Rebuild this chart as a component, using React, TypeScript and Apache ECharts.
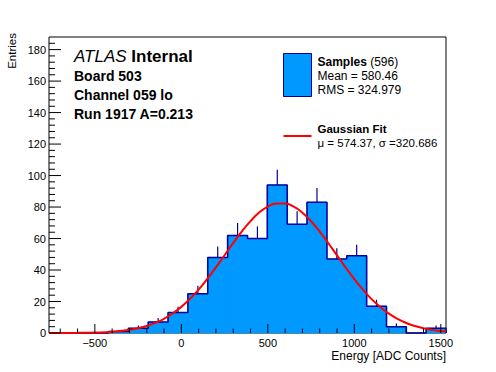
import React, { useEffect, useRef } from "react";
import * as echarts from "echarts";

// Histogram range and bin contents
const xMin = -765;
const xMax = 1530;
const yMin = 0;
const yMax = 188;
const counts = [0, 0, 0, 1, 3, 7, 13, 25, 48, 62, 60, 94, 69, 83, 47, 49, 17, 4, 0, 3];
const errors = [0, 0, 0, 1, 1.7, 2.6, 3.6, 5, 6.9, 7.9, 7.7, 9.7, 8.3, 9.1, 6.9, 7, 4.1, 2, 0, 1.7];

// Gaussian fit curve
const fitX = [-765, -700, -600, -500, -400, -300, -250, -200, -150, -100, -50, 0, 50, 100, 150, 200, 250, 300, 350, 400, 450, 500, 550, 600, 650, 700, 750, 800, 850, 900, 950, 1000, 1050, 1100, 1150, 1200, 1250, 1300, 1350, 1400, 1450, 1500, 1530];
const fitY = [0.01, 0.03, 0.1, 0.3, 0.82, 2.0, 3.03, 4.48, 6.45, 9.04, 12.4, 16.6, 21.7, 27.6, 34.4, 41.7, 49.4, 57.2, 64.6, 71.1, 76.5, 80.3, 82.3, 82.2, 80.2, 76.4, 71.0, 64.4, 57.0, 49.3, 41.6, 34.2, 27.5, 21.5, 16.5, 12.3, 8.97, 6.38, 4.43, 3.0, 1.99, 1.28, 0.97];

// Axis ticks and labels
const xMajorTicks = [-500, 0, 500, 1000, 1500];
const xMajorLabels = ["\u2212500", "0", "500", "1000", "1500"];
const xMinorTicks = [-700, -600, -400, -300, -200, -100, 100, 200, 300, 400, 600, 700, 800, 900, 1100, 1200, 1300, 1400];
const yMajorTicks = [0, 20, 40, 60, 80, 100, 120, 140, 160, 180];
const yMajorLabels = ["0", "20", "40", "60", "80", "100", "120", "140", "160", "180"];
const yMinorTicks = [4, 8, 12, 16, 24, 28, 32, 36, 44, 48, 52, 56, 64, 68, 72, 76, 84, 88, 92, 96, 104, 108, 112, 116, 124, 128, 132, 136, 144, 148, 152, 156, 164, 168, 172, 176, 184];

const xTitle = "Energy [ADC Counts]";
const yTitle = "Entries";
const infoLines = ["Board 503", "Channel 059 lo", "Run 1917 A=0.213"];
const legendSamples = { name: "Samples", n: "(596)", mean: "Mean = 580.46", rms: "RMS = 324.979" };
const legendFit = { name: "Gaussian Fit", params: "\u03bc = 574.37, \u03c3 =320.686" };

const FONT = "'Liberation Sans', Arial, Helvetica, sans-serif";
const FILL = "#0099ff";
const EDGE = "#000099";

export default function App() {
  const ref = useRef<HTMLDivElement>(null);

  useEffect(() => {
    if (!ref.current) return;
    const chart = echarts.init(ref.current, undefined, { renderer: "svg" });

    const nBins = counts.length;
    const w = (xMax - xMin) / nBins;
    const bins = counts.map((c, i) => [xMin + i * w, xMin + (i + 1) * w, c]);
    const outline: number[][] = [[xMin, 0]];
    counts.forEach((c, i) => {
      outline.push([xMin + i * w, c]);
      outline.push([xMin + (i + 1) * w, c]);
    });
    outline.push([xMax, 0]);
    const errData = counts.map((c, i) => [xMin + (i + 0.5) * w, c, errors[i]]).filter((d) => d[1] > 0);
    const fitData = fitX.map((x, i) => [x, fitY[i]]);

    const xTickData = [
      ...xMajorTicks.map((v, i) => [v, 0, 1, i]),
      ...xMinorTicks.map((v) => [v, 0, 0, -1]),
    ];
    const yTickData = [
      ...yMajorTicks.map((v, i) => [xMin, v, 1, i]),
      ...yMinorTicks.map((v) => [xMin, v, 0, -1]),
    ];

    const option: any = {
      animation: false,
      backgroundColor: "#ffffff",
      grid: {
        left: 49,
        right: 50,
        top: 37,
        bottom: 39,
        show: true,
        borderColor: "#000000",
        borderWidth: 1,
        backgroundColor: "transparent",
      },
      xAxis: { type: "value", min: xMin, max: xMax, show: false },
      yAxis: { type: "value", min: yMin, max: yMax, show: false },
      series: [
        {
          type: "custom",
          z: 1,
          clip: false,
          data: bins,
          encode: { x: [0, 1], y: 2 },
          renderItem: (params: any, api: any) => {
            const c = api.value(2);
            if (c <= 0) return null;
            const p0 = api.coord([api.value(0), c]);
            const p1 = api.coord([api.value(1), 0]);
            return {
              type: "rect",
              shape: { x: p0[0] - 0.4, y: p0[1], width: p1[0] - p0[0] + 0.8, height: p1[1] - p0[1] },
              style: { fill: FILL, stroke: FILL, lineWidth: 0.6 },
            };
          },
        },
        {
          type: "custom",
          z: 2,
          clip: false,
          data: errData,
          encode: { x: 0, y: 1 },
          renderItem: (params: any, api: any) => {
            const x = api.value(0);
            const c = api.value(1);
            const e = api.value(2);
            const p0 = api.coord([x, c]);
            const p1 = api.coord([x, c + e]);
            return {
              type: "line",
              shape: { x1: p0[0], y1: p0[1], x2: p1[0], y2: p1[1] },
              style: { stroke: EDGE, lineWidth: 1.2 },
            };
          },
        },
        {
          type: "line",
          z: 3,
          clip: false,
          data: outline,
          showSymbol: false,
          symbol: "none",
          lineStyle: { color: EDGE, width: 1.5 },
        },
        {
          type: "line",
          z: 4,
          clip: false,
          data: fitData,
          smooth: true,
          showSymbol: false,
          symbol: "none",
          lineStyle: { color: "#ff0000", width: 2 },
        },
        {
          type: "custom",
          z: 5,
          clip: false,
          data: xTickData,
          encode: { x: 0, y: 1 },
          renderItem: (params: any, api: any) => {
            const v = api.value(0);
            const major = api.value(2) === 1;
            const idx = api.value(3);
            const p = api.coord([v, 0]);
            const children: any[] = [
              {
                type: "line",
                shape: { x1: p[0], y1: p[1], x2: p[0], y2: p[1] - (major ? 9 : 4.5) },
                style: { stroke: "#000000", lineWidth: 1 },
              },
            ];
            if (major && idx >= 0) {
              children.push({
                type: "text",
                style: {
                  text: xMajorLabels[idx],
                  x: p[0],
                  y: p[1] + 4,
                  fill: "#000000",
                  fontSize: 11,
                  fontFamily: FONT,
                  align: "center",
                  verticalAlign: "top",
                  textAlign: "center",
                  textVerticalAlign: "top",
                },
              });
            }
            return { type: "group", children };
          },
        },
        {
          type: "custom",
          z: 5,
          clip: false,
          data: yTickData,
          encode: { x: 0, y: 1 },
          renderItem: (params: any, api: any) => {
            const v = api.value(1);
            const major = api.value(2) === 1;
            const idx = api.value(3);
            const p = api.coord([xMin, v]);
            const children: any[] = [
              {
                type: "line",
                shape: { x1: p[0], y1: p[1], x2: p[0] + (major ? 12 : 6), y2: p[1] },
                style: { stroke: "#000000", lineWidth: 1 },
              },
            ];
            if (major && idx >= 0) {
              children.push({
                type: "text",
                style: {
                  text: yMajorLabels[idx],
                  x: p[0] - 3,
                  y: p[1],
                  fill: "#000000",
                  fontSize: 11,
                  fontFamily: FONT,
                  align: "right",
                  verticalAlign: "middle",
                  textAlign: "right",
                  textVerticalAlign: "middle",
                },
              });
            }
            return { type: "group", children };
          },
        },
      ],
      graphic: [
        {
          type: "text",
          x: 446,
          y: 356,
          style: { text: xTitle, fill: "#000", fontSize: 12, fontFamily: FONT, align: "right", verticalAlign: "middle" },
        },
        {
          type: "text",
          x: 12,
          y: 33,
          rotation: Math.PI / 2,
          style: { text: yTitle, fill: "#000", fontSize: 11.5, fontFamily: FONT, align: "right", verticalAlign: "middle" },
        },
        {
          type: "text",
          x: 74,
          y: 56.5,
          style: {
            text: "{a|ATLAS} {b|Internal}",
            fontSize: 17,
            fontFamily: FONT,
            fill: "#000",
            verticalAlign: "middle",
            rich: {
              a: { fontStyle: "italic", fontSize: 17, fontFamily: FONT, fill: "#000" },
              b: { fontWeight: "bold", fontSize: 17, fontFamily: FONT, fill: "#000" },
            },
          },
        },
        ...infoLines.map((t, i) => ({
          type: "text",
          x: 74,
          y: 75.5 + i * 19.3,
          style: { text: t, fill: "#000", fontSize: 14, fontWeight: "bold", fontFamily: FONT, verticalAlign: "middle" },
        })),
        {
          type: "rect",
          shape: { x: 283.5, y: 53.5, width: 28, height: 43 },
          style: { fill: FILL, stroke: EDGE, lineWidth: 1 },
        },
        {
          type: "text",
          x: 317.5,
          y: 61.5,
          style: {
            text: "{b|" + legendSamples.name + "} {n|" + legendSamples.n + "}",
            fontSize: 12,
            fontFamily: FONT,
            fill: "#000",
            verticalAlign: "middle",
            rich: {
              b: { fontWeight: "bold", fontSize: 12, fontFamily: FONT, fill: "#000" },
              n: { fontSize: 12, fontFamily: FONT, fill: "#000" },
            },
          },
        },
        {
          type: "text",
          x: 317.5,
          y: 76,
          style: { text: legendSamples.mean, fill: "#000", fontSize: 12, fontFamily: FONT, verticalAlign: "middle" },
        },
        {
          type: "text",
          x: 317.5,
          y: 90,
          style: { text: legendSamples.rms, fill: "#000", fontSize: 12, fontFamily: FONT, verticalAlign: "middle" },
        },
        {
          type: "line",
          shape: { x1: 283.5, y1: 136, x2: 311.5, y2: 136 },
          style: { stroke: "#ff0000", lineWidth: 2 },
        },
        {
          type: "text",
          x: 317.5,
          y: 129,
          style: { text: legendFit.name, fill: "#000", fontSize: 11.5, fontWeight: "bold", fontFamily: FONT, verticalAlign: "middle" },
        },
        {
          type: "text",
          x: 317.5,
          y: 142.5,
          style: { text: legendFit.params, fill: "#000", fontSize: 11.5, fontFamily: FONT, verticalAlign: "middle" },
        },
      ],
    };

    chart.setOption(option);
    return () => {
      chart.dispose();
    };
  }, []);

  return (
    <div
      ref={ref}
      style={{ position: "fixed", left: 0, top: 0, width: 496, height: 372, background: "#ffffff" }}
    />
  );
}
